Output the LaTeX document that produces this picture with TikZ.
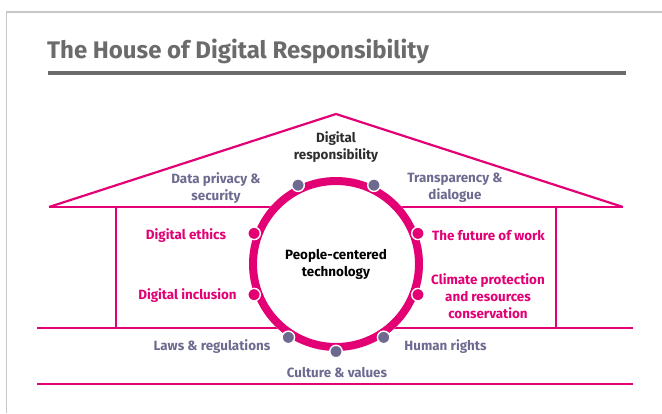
\documentclass[tikz,border=0pt]{standalone}
\usepackage{fontspec}
\setmainfont{Fira Sans}
\definecolor{tmagenta}{HTML}{E20074}
\definecolor{tgray}{HTML}{6D6A90}
\definecolor{tdark}{HTML}{2E2E2E}
\definecolor{ttitle}{HTML}{6B6B6B}
\definecolor{tframe}{HTML}{C8C8C8}
\begin{document}
\begin{tikzpicture}[x=1pt,y=-1pt,
  house/.style={draw=tmagenta,line width=2.2pt},
  lbl/.style={font=\bfseries\fontsize{13.4}{17}\selectfont,align=center,inner sep=0pt},
  lblm/.style={lbl,text=tmagenta},
  lblg/.style={lbl,text=tgray},
  lbld/.style={lbl,text=tdark},
  dotg/.style={circle,fill=tgray,draw=white,line width=1.4pt,minimum size=12.5pt,inner sep=0pt},
  dotm/.style={dotg,fill=tmagenta}]
\pgfmathsetmacro{\rmid}{83}
\pgfmathsetmacro{\rout}{87}
\pgfmathsetmacro{\rdot}{87.5}
\useasboundingbox (0,0) rectangle (662,413);
%frame
\draw[tframe,line width=1.5pt] (6.5,413) -- (6.5,12) -- (662,12);
%title
\node[anchor=base west,inner sep=0pt,text=ttitle,font=\bfseries\fontsize{24}{28}\selectfont] (title) at (47,58) {The House of Digital Responsibility};
\draw[ttitle,line width=3.5pt] (48,73) -- (626,73);
%roof
\draw[house] (49,207) -- (336,114) -- (623,207);
\draw[house] (49,207) -- (623,207);
%walls and floors
\draw[house] (116,207) -- (116,328);
\draw[house] (556,207) -- (556,328);
\draw[house] (37,328) -- (633,328);
\draw[house] (37,384) -- (633,384);
%ring
\coordinate (c) at (336,264);
\fill[white] (c) circle (\rout);
\draw[tmagenta,line width=8pt] (c) circle (\rmid);
\node[lbld,text=black] (people) at (c) {People-centered\\technology};
%dots
\node[dotg] (dpriv) at ([shift={(-115.7:\rdot)}]c) {};
\node[dotg] (dtrans) at ([shift={(-64.3:\rdot)}]c) {};
\node[dotm] (dethics) at ([shift={(-159.5:\rdot)}]c) {};
\node[dotm] (dincl) at ([shift={(159.5:\rdot)}]c) {};
\node[dotm] (dwork) at ([shift={(-20.5:\rdot)}]c) {};
\node[dotm] (dclim) at ([shift={(20.5:\rdot)}]c) {};
\node[dotg] (dlaws) at ([shift={(123:\rdot)}]c) {};
\node[dotg] (dhuman) at ([shift={(57:\rdot)}]c) {};
\node[dotg] (dcult) at ([shift={(90:\rdot)}]c) {};
%labels
\node[lbld] (resp) at (336,147) {Digital\\responsibility};
\node[lblg] (priv) at (216,188) {Data privacy \&\\security};
\node[lblg] (trans) at (455,188) {Transparency \&\\dialogue};
\node[lblm] (ethics) at (186,236) {Digital ethics};
\node[lblm] (incl) at (187.5,296) {Digital inclusion};
\node[lblm] (work) at (488.5,236) {The future of work};
\node[lblm] (clim) at (488,296) {Climate protection\\and resources\\conservation};
\node[lblg] (laws) at (212,347) {Laws \& regulations};
\node[lblg] (human) at (445.5,347) {Human rights};
\node[lblg] (cult) at (337,373) {Culture \& values};
\end{tikzpicture}
\end{document}
